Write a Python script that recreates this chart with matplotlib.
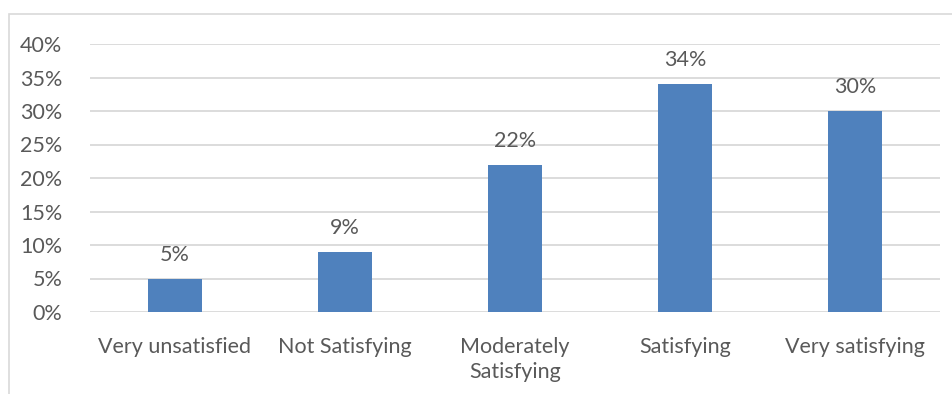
import matplotlib
matplotlib.use("Agg")
import matplotlib.pyplot as plt
from matplotlib.patches import Rectangle
from matplotlib.ticker import FuncFormatter

categories = ["Very unsatisfied", "Not Satisfying", "Moderately\nSatisfying", "Satisfying", "Very satisfying"]
shares = [5, 9, 22, 34, 30]
y_ticks = [0, 5, 10, 15, 20, 25, 30, 35, 40]

BAR = "#4F81BD"
GRID = "#D9D9D9"
TEXT = "#595959"

plt.rcParams["font.family"] = ["Lato", "DejaVu Sans"]

W, H = 953, 394
fig = plt.figure(figsize=(W / 100, H / 100), dpi=100)
ax = fig.add_axes([90 / W, 1 - 312 / H, 850 / W, 268 / H])

x = range(len(categories))
bars = ax.bar(x, shares, width=0.32, color=BAR, zorder=3)

ax.set_xlim(-0.5, len(categories) - 0.5)
ax.set_ylim(0, 40)
ax.set_yticks(y_ticks)
ax.yaxis.set_major_formatter(FuncFormatter(lambda v, _: f"{v:.0f}%"))
ax.grid(axis="y", color=GRID, linewidth=1.3, zorder=0)
for s in ax.spines.values():
    s.set_visible(False)
ax.tick_params(axis="both", length=0, labelsize=15.5, colors=TEXT)
ax.tick_params(axis="y", pad=20)
ax.tick_params(axis="x", pad=18)
ax.set_xticks(list(x))
ax.set_xticklabels(categories, linespacing=1.3)

for rect, v in zip(bars, shares):
    ax.annotate(f"{v}%", (rect.get_x() + rect.get_width() / 2, v),
                xytext=(0, 10), textcoords="offset points",
                ha="center", va="bottom", fontsize=15.5, color=TEXT)

# chart frame
fig.patches.append(Rectangle((9 / W, -0.1), 1.1, 1 - 14 / H + 0.1,
                             transform=fig.transFigure, fill=False,
                             edgecolor="#D9D9D9", linewidth=1.2))

fig.savefig("out.png", dpi=100, facecolor="white")
